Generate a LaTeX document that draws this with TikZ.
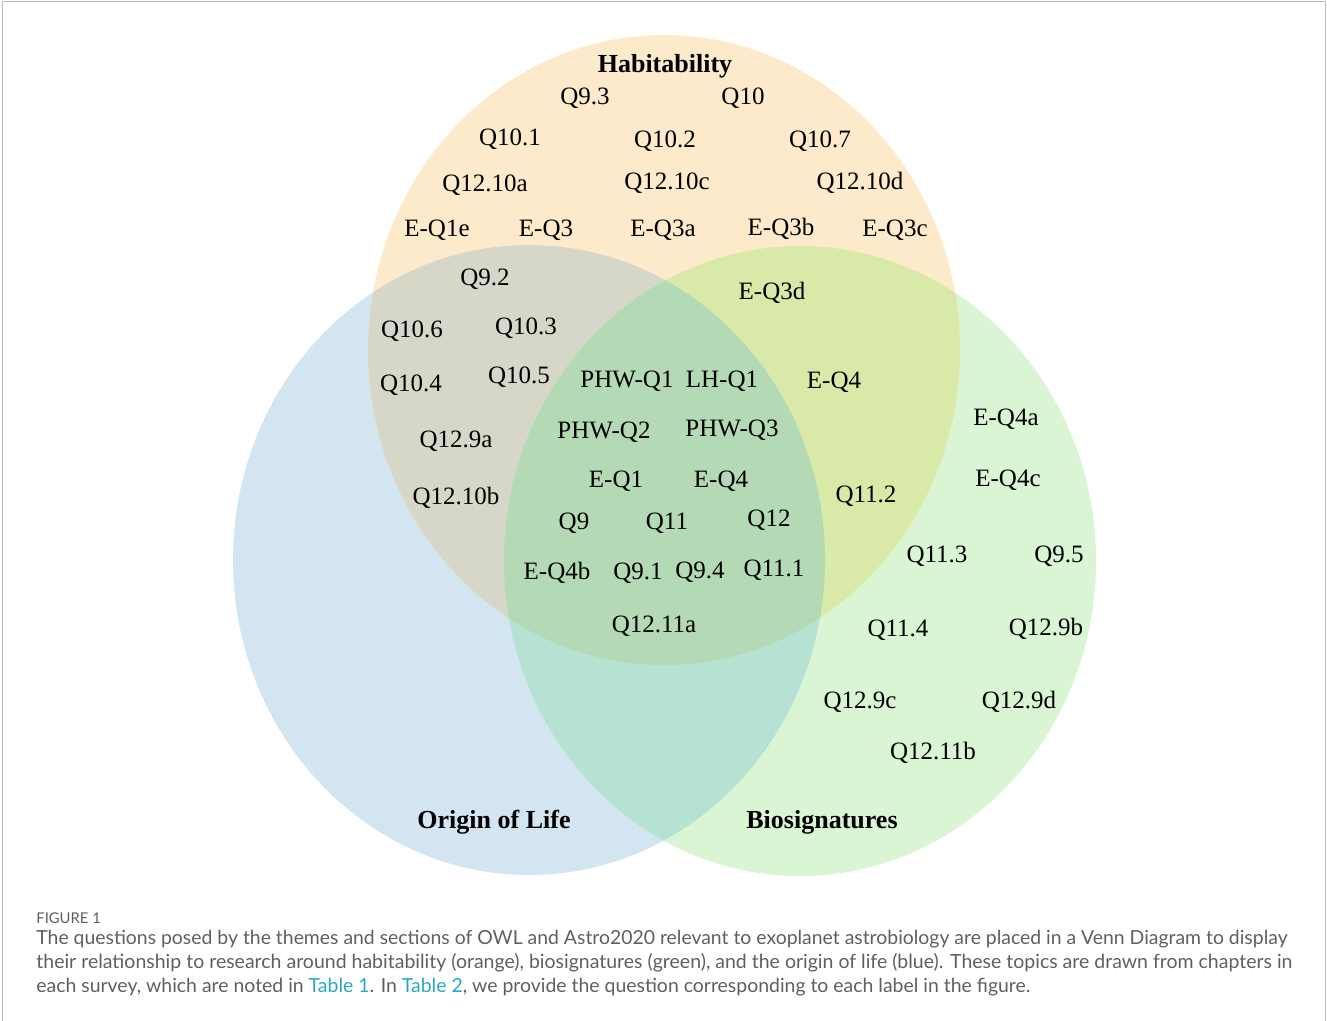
\documentclass[tikz,border=0pt]{standalone}
\usepackage{fontspec}
\usepackage{graphicx}
\setmainfont{Liberation Serif}
\newfontfamily\capfont{Lato}
\definecolor{colO}{RGB}{253,234,203}
\definecolor{colB}{RGB}{211,229,241}
\definecolor{colG}{RGB}{218,245,211}
\definecolor{colOB}{RGB}{214,215,200}
\definecolor{colOG}{RGB}{217,234,168}
\definecolor{colBG}{RGB}{182,226,211}
\definecolor{colOBG}{RGB}{180,217,181}
\definecolor{capgray}{RGB}{95,95,95}
\definecolor{linkc}{RGB}{40,168,200}
\definecolor{framec}{RGB}{185,185,185}
\tikzset{
  lab/.style={anchor=base, yshift=-4.5pt, inner sep=0pt, font=\fontsize{12.5}{15}\selectfont, text=black},
  blab/.style={anchor=base, yshift=-4.8pt, inner sep=0pt, font=\fontsize{13}{15}\selectfont\bfseries, text=black},
  captext/.style={anchor=base west, inner sep=0pt, font=\capfont\fontsize{8.75}{10}\selectfont, text=capgray},
  figlab/.style={anchor=base west, inner sep=0pt, font=\capfont\fontsize{7.4}{9}\selectfont, text=capgray},
  frameline/.style={draw=framec, line width=0.5pt}
}
\begin{document}
\begin{tikzpicture}[x=0.5pt, y=-0.5pt]
\useasboundingbox (0,0) rectangle (1327,1021);
% frame
\coordinate (fbl) at (2,1021);
\coordinate (ftl) at (2,2);
\coordinate (ftr) at (1325,2);
\coordinate (fbr) at (1325,1021);
\draw[frameline] (fbl) -- (ftl) -- (ftr) -- (fbr);
% circle centres
\coordinate (cO) at (664,350);
\coordinate (cB) at (529,560);
\coordinate (cG) at (800,561);
\fill[colB] (cB) ellipse [x radius=148pt, y radius=157.5pt];
\fill[colG] (cG) ellipse [x radius=148pt, y radius=157.5pt];
\fill[colO] (cO) ellipse [x radius=148pt, y radius=157.5pt];
\begin{scope}
  \clip (cO) ellipse [x radius=148pt, y radius=157.5pt];
  \fill[colOB] (cB) ellipse [x radius=148pt, y radius=157.5pt];
  \fill[colOG] (cG) ellipse [x radius=148pt, y radius=157.5pt];
\end{scope}
\begin{scope}
  \clip (cB) ellipse [x radius=148pt, y radius=157.5pt];
  \fill[colBG] (cG) ellipse [x radius=148pt, y radius=157.5pt];
\end{scope}
\begin{scope}
  \clip (cO) ellipse [x radius=148pt, y radius=157.5pt];
  \clip (cB) ellipse [x radius=148pt, y radius=157.5pt];
  \fill[colOBG] (cG) ellipse [x radius=148pt, y radius=157.5pt];
\end{scope}
% titles
\node[blab] (hab) at (665,63) {Habitability};
\node[blab] (ool) at (494,819) {Origin of Life};
\node[blab] (bio) at (822,819) {Biosignatures};
% labels
\node[lab] (a1) at (585,96) {Q9.3};
\node[lab] (a2) at (743,96) {Q10};
\node[lab] (a3) at (510,137) {Q10.1};
\node[lab] (a4) at (665,139) {Q10.2};
\node[lab] (a5) at (820,139) {Q10.7};
\node[lab] (a6) at (485,183) {Q12.10a};
\node[lab] (a7) at (667,181) {Q12.10c};
\node[lab] (a8) at (860,181) {Q12.10d};
\node[lab] (a9) at (437,228) {E-Q1e};
\node[lab] (a10) at (546,228) {E-Q3};
\node[lab] (a11) at (663,228) {E-Q3a};
\node[lab] (a12) at (781,227) {E-Q3b};
\node[lab] (a13) at (895,228) {E-Q3c};
\node[lab] (a14) at (485,277) {Q9.2};
\node[lab] (a15) at (772,291) {E-Q3d};
\node[lab] (a16) at (412,329) {Q10.6};
\node[lab] (a17) at (526,326) {Q10.3};
\node[lab] (a18) at (411,383) {Q10.4};
\node[lab] (a19) at (519,375) {Q10.5};
\node[lab] (a20) at (627,378) {PHW-Q1};
\node[lab] (a21) at (722,378) {LH-Q1};
\node[lab] (a22) at (834,379) {E-Q4};
\node[lab] (a23) at (1006,416) {E-Q4a};
\node[lab] (a24) at (604,429) {PHW-Q2};
\node[lab] (a25) at (732,428) {PHW-Q3};
\node[lab] (a26) at (456,438) {Q12.9a};
\node[lab] (a27) at (616,478) {E-Q1};
\node[lab] (a28) at (721,478) {E-Q4};
\node[lab] (a29) at (1008,477) {E-Q4c};
\node[lab] (a30) at (456,495) {Q12.10b};
\node[lab] (a31) at (866,493) {Q11.2};
\node[lab] (a32) at (574,520) {Q9};
\node[lab] (a33) at (667,520) {Q11};
\node[lab] (a34) at (769,517) {Q12};
\node[lab] (a35) at (937,553) {Q11.3};
\node[lab] (a36) at (1059,553) {Q9.5};
\node[lab] (a37) at (557,570) {E-Q4b};
\node[lab] (a38) at (638,570) {Q9.1};
\node[lab] (a39) at (700,569) {Q9.4};
\node[lab] (a40) at (774,567) {Q11.1};
\node[lab] (a41) at (654,623) {Q12.11a};
\node[lab] (a42) at (898,627) {Q11.4};
\node[lab] (a43) at (1046,626) {Q12.9b};
\node[lab] (a44) at (860,699) {Q12.9c};
\node[lab] (a45) at (1019,699) {Q12.9d};
\node[lab] (a46) at (933,750) {Q12.11b};
% caption
\node[figlab] (fig) at (36,923) {FIGURE 1};
\node[captext] (c1) at (36,944) {\resizebox{625.5pt}{!}{The questions posed by the themes and sections of OWL and Astro2020 relevant to exoplanet astrobiology are placed in a Venn Diagram to display}};
\node[captext] (c2) at (36,968) {\resizebox{628pt}{!}{their relationship to research around habitability (orange), biosignatures (green), and the origin of life (blue). These topics are drawn from chapters in}};
\node[captext] (c3) at (36,992) {\resizebox{497pt}{!}{each survey, which are noted in \textcolor{linkc}{Table 1}. In \textcolor{linkc}{Table 2}, we provide the question corresponding to each label in the figure.}};
\end{tikzpicture}
\end{document}
